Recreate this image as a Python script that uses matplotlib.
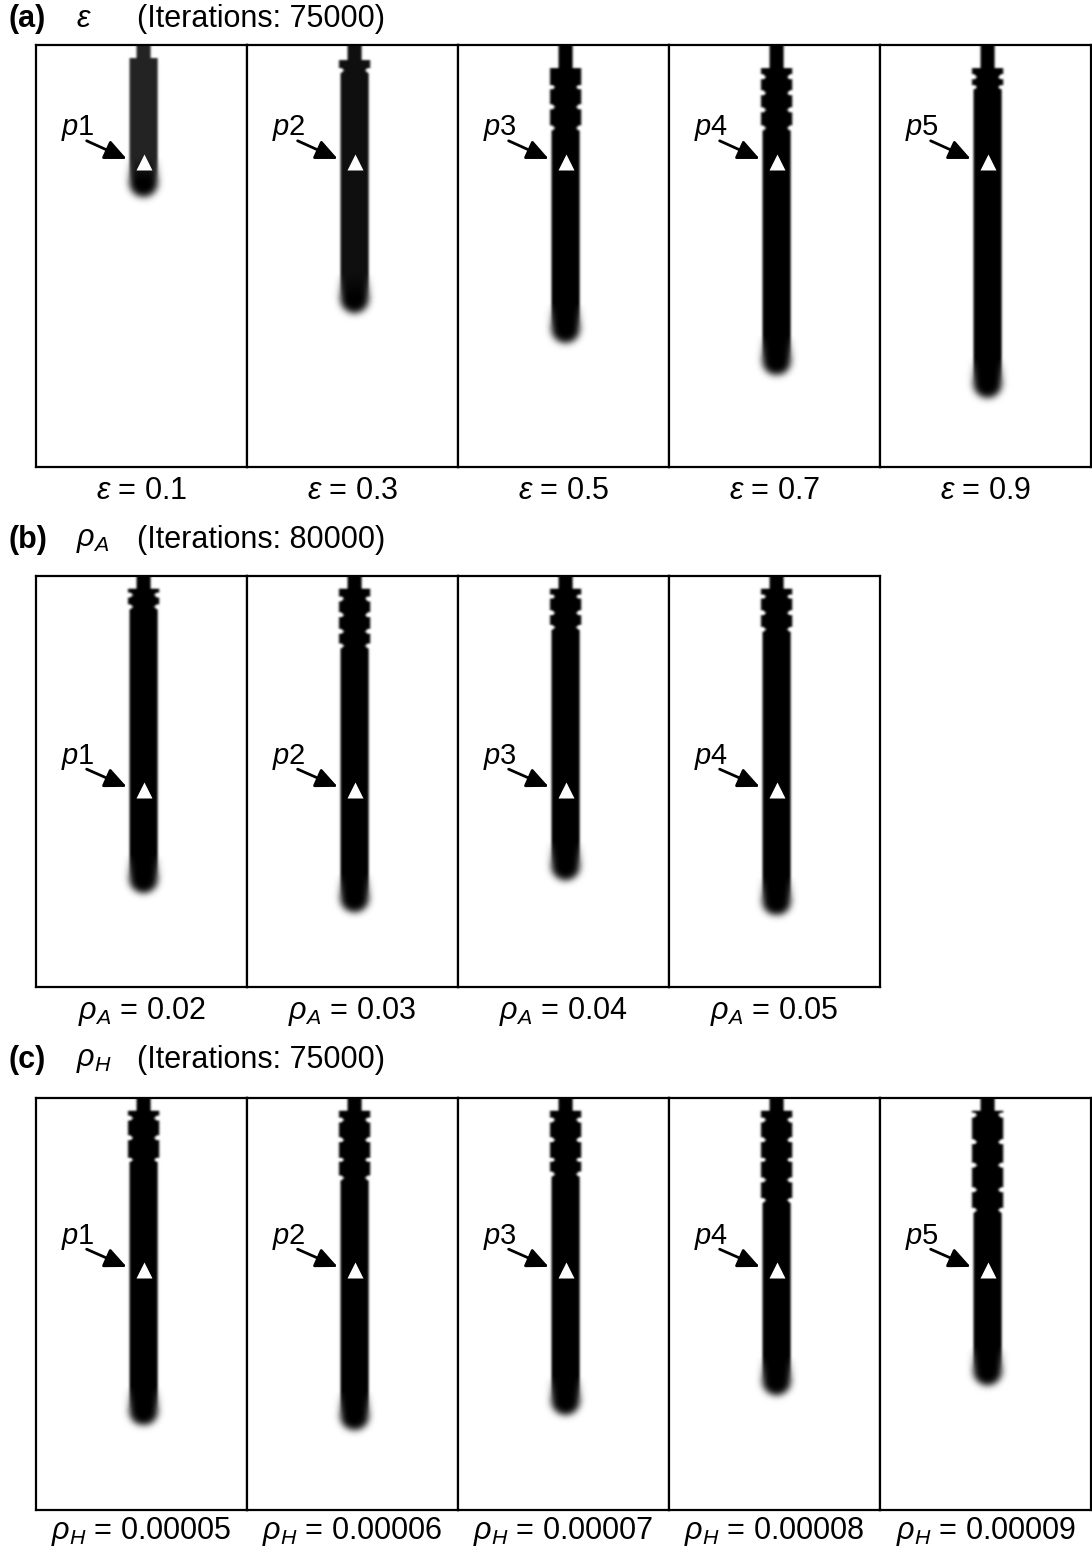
"""Phase-field crack panels: three parameter sweeps, one rod per run.

Each panel shows the damaged zone (black) growing down from the top edge,
with the monitoring point p_i marked by a white triangle.
"""
import numpy as np
import matplotlib
matplotlib.use("Agg")
import matplotlib.pyplot as plt

plt.rcParams["font.family"] = ["Liberation Sans", "DejaVu Sans"]
plt.rcParams["mathtext.fontset"] = "custom"
plt.rcParams["mathtext.rm"] = "Liberation Sans"
plt.rcParams["mathtext.it"] = "Liberation Sans:italic"

# ---- data (fractions of panel height, measured from the top edge) ----
A_LABELS = [r"$\varepsilon$ = 0.1", r"$\varepsilon$ = 0.3", r"$\varepsilon$ = 0.5",
            r"$\varepsilon$ = 0.7", r"$\varepsilon$ = 0.9"]
A_TIPS = [0.360, 0.635, 0.706, 0.782, 0.836]
A_NECKS = [0.031, 0.035, 0.055, 0.055, 0.055]
A_NOTCHES = [[], [0.060], [0.100, 0.147, 0.197],
             [0.076, 0.114, 0.154, 0.197], [0.076, 0.100]]
A_SHADE = [0.86, 0.94, 1.0, 1.0, 1.0]
A_POINT = 0.277

B_LABELS = [r"$\rho_A$ = 0.02", r"$\rho_A$ = 0.03", r"$\rho_A$ = 0.04", r"$\rho_A$ = 0.05"]
B_TIPS = [0.771, 0.818, 0.740, 0.825]
B_NECKS = [0.030, 0.030, 0.030, 0.030]
B_NOTCHES = [[0.046, 0.075], [0.055, 0.095, 0.135, 0.170],
             [0.050, 0.090, 0.125], [0.050, 0.090, 0.130]]
B_SHADE = [1.0, 1.0, 1.0, 1.0]
B_POINT = 0.520

C_LABELS = [r"$\rho_H$ = 0.00005", r"$\rho_H$ = 0.00006", r"$\rho_H$ = 0.00007",
            r"$\rho_H$ = 0.00008", r"$\rho_H$ = 0.00009"]
C_TIPS = [0.794, 0.806, 0.769, 0.721, 0.697]
C_NECKS = [0.030, 0.030, 0.030, 0.030, 0.030]
C_NOTCHES = [[0.049, 0.097, 0.150], [0.053, 0.102, 0.150, 0.194],
             [0.053, 0.102, 0.150, 0.185], [0.053, 0.102, 0.150, 0.199, 0.248],
             [0.041, 0.107, 0.163, 0.223, 0.272]]
C_SHADE = [1.0, 1.0, 1.0, 1.0, 1.0]
C_POINT = 0.417

ROWS = [
    ("(a)", r"$\varepsilon$", "(Iterations: 75000)",
     A_LABELS, A_TIPS, A_NECKS, A_NOTCHES, A_SHADE, A_POINT),
    ("(b)", r"$\rho_A$", "(Iterations: 80000)",
     B_LABELS, B_TIPS, B_NECKS, B_NOTCHES, B_SHADE, B_POINT),
    ("(c)", r"$\rho_H$", "(Iterations: 75000)",
     C_LABELS, C_TIPS, C_NECKS, C_NOTCHES, C_SHADE, C_POINT),
]

W, H = 1092, 1557
ROW_TOP = [45, 576, 1098]        # px
ROW_H = [422, 411, 412]
LEFT, PW = 36, 211
LABEL_Y = [491, 1011, 1531]
TITLE_Y = [19, 540, 1060]
XC = 0.51                         # rod centre, fraction of panel width
NY, NX = 420, 210                 # raster grid for each panel
FS = 22


def blur(img, sigma):
    r = int(3 * sigma) + 1
    k = np.exp(-0.5 * (np.arange(-r, r + 1) / sigma) ** 2)
    k /= k.sum()
    p = np.pad(img, r, mode="edge")
    p = np.apply_along_axis(lambda v: np.convolve(v, k, mode="valid"), 0, p)
    p = np.apply_along_axis(lambda v: np.convolve(v, k, mode="valid"), 1, p)
    return p


def rod_image(tip, neck, notches, shade, neck_hw=7.0, body_hw=14.0):
    y = np.arange(NY) + 0.5
    x = np.arange(NX) + 0.5
    tip_px, neck_px = tip * NY, neck * NY
    hw = np.full(NY, body_hw)
    hw[y < neck_px] = neck_hw
    if notches:
        last = max(notches) * NY
        hw[(y >= neck_px) & (y < last)] = body_hw + 1.5
        for n in notches:
            d = np.abs(y - n * NY)
            hw[d < 2.5] = body_hw - 3.5 + d[d < 2.5]
    r = body_hw
    cap = y > tip_px - r
    hw[cap] = np.sqrt(np.clip(r ** 2 - (y[cap] - (tip_px - r)) ** 2, 0, None))
    mask = np.clip(hw[:, None] - np.abs(x[None, :] - XC * NX) + 0.5, 0, 1)
    mask[hw <= 0.5] = 0
    sharp = blur(mask, 1.0)
    soft = blur(mask, 3.5)
    w = np.clip((y - (tip_px - 40)) / 25.0, 0, 1)[:, None]
    dark = shade * (1 - w) + 1.0 * w
    return 1.0 - dark * (sharp * (1 - w) + soft * w)


fig = plt.figure(figsize=(W / 100, H / 100), dpi=100)
fig.patch.set_facecolor("white")

for ri, (tag, sym, iters, labels, tips, necks, notches, shades, point) in enumerate(ROWS):
    top, ph = ROW_TOP[ri], ROW_H[ri]
    ty = 1 - TITLE_Y[ri] / H
    fig.text(9 / W, ty, tag, fontsize=FS, va="center", ha="left", weight="bold")
    fig.text(76 / W, ty, sym, fontsize=FS, va="center", ha="left")
    fig.text(137 / W, ty, iters, fontsize=FS, va="center", ha="left")
    for j, lab in enumerate(labels):
        x0 = LEFT + j * PW
        ax = fig.add_axes([x0 / W, 1 - (top + ph) / H, PW / W, ph / H])
        img = rod_image(tips[j], necks[j], notches[j], shades[j])
        ax.imshow(img, cmap="gray", vmin=0, vmax=1, extent=(0, 1, 1, 0),
                  aspect="auto", interpolation="bilinear")
        ax.plot(XC, point, marker="^", color="white", ms=11, mec="none")
        ax.annotate("", xy=(XC - 0.08, point - 0.007),
                    xytext=(XC - 0.27, point - 0.05),
                    arrowprops=dict(arrowstyle="-|>,head_length=0.55,head_width=0.25",
                                    mutation_scale=24, lw=2.0, color="black",
                                    shrinkA=0, shrinkB=0))
        ax.text(XC - 0.31, point - 0.08, r"$p$%d" % (j + 1), fontsize=21,
                ha="center", va="center")
        ax.set_xlim(0, 1)
        ax.set_ylim(1, 0)
        ax.set_xticks([])
        ax.set_yticks([])
        for s in ax.spines.values():
            s.set_linewidth(1.6)
            s.set_color("black")
        fig.text((x0 + PW / 2) / W, 1 - LABEL_Y[ri] / H, lab, fontsize=FS,
                 ha="center", va="center")

fig.savefig("out.png", dpi=100, facecolor="white")
